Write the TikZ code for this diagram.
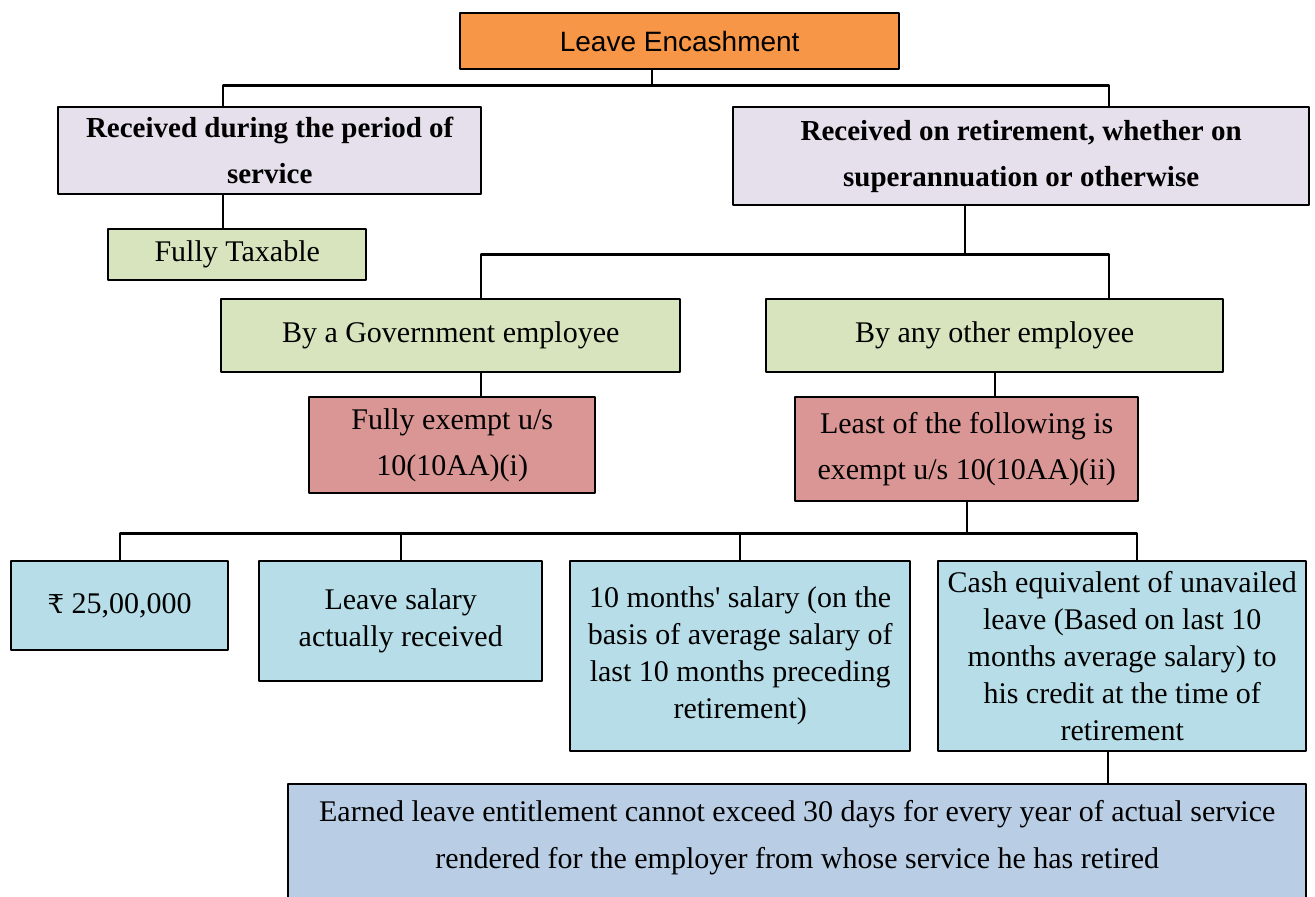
\documentclass[tikz,border=0pt]{standalone}
\usepackage{fontspec}
\setmainfont{Liberation Serif}[Ligatures=TeXOff]
\newfontfamily\headfont{Liberation Sans}
\newfontfamily\rupeefont{DejaVu Serif}
\definecolor{encorange}{HTML}{F79646}
\definecolor{modelilac}{HTML}{E5E0EC}
\definecolor{taxgreen}{HTML}{D7E4BD}
\definecolor{exred}{HTML}{D99694}
\definecolor{limitblue}{HTML}{B7DEE8}
\definecolor{noteblue}{HTML}{B9CDE5}
\begin{document}
\begin{tikzpicture}[x=1pt,y=-1pt,line join=round]
	\tikzset{box/.style={draw, line width=2.4pt, align=center, inner sep=0pt, anchor=north west, font=\fontsize{30}{37}\selectfont},
		loose/.style={font=\fontsize{30}{46}\selectfont},
		heavy/.style={font=\fontsize{29}{46}\selectfont\bfseries},
		conn/.style={line width=2.2pt}}
	\useasboundingbox (0,0) rectangle (1315,897);
	\clip (0,0) rectangle (1315,897);
	% top level
	\node (enc) [box, fill=encorange, minimum width=439, minimum height=56, font=\headfont\fontsize{28}{30}\selectfont] at (459,12) {Leave Encashment};
	\node (svc) [box, heavy, fill=modelilac, minimum width=423, minimum height=87] at (57,106) {Received during the period of\\service};
	\node (ret) [box, heavy, fill=modelilac, minimum width=576, minimum height=98] at (732,106) {Received on retirement, whether on\\superannuation or otherwise};
	\node (tax) [box, fill=taxgreen, minimum width=258, minimum height=51] at (107,228) {Fully Taxable};
	% retirement branch
	\node (gov) [box, fill=taxgreen, minimum width=459, minimum height=73] at (220,298) {By a Government employee};
	\node (oth) [box, fill=taxgreen, minimum width=457, minimum height=73] at (765,298) {By any other employee};
	\node (ex1) [box, loose, fill=exred, minimum width=286, minimum height=96] at (308,396) {Fully exempt u/s\\10(10AA)(i)};
	\node (ex2) [box, loose, fill=exred, minimum width=343, minimum height=104] at (794,396) {Least of the following is\\exempt u/s 10(10AA)(ii)};
	% limits
	\node (c1) [box, fill=limitblue, minimum width=217, minimum height=89] at (10,560) {{\rupeefont\fontsize{26}{30}\selectfont ₹} 25,00,000};
	\node (c2) [box, fill=limitblue, minimum width=283, minimum height=120] at (258,560) {Leave salary\\actually received};
	\node (c3) [box, fill=limitblue, minimum width=340, minimum height=190] at (569,560) {10 months' salary (on the\\basis of average salary of\\last 10 months preceding\\retirement)};
	\node (c4) [box, fill=limitblue, minimum width=368, minimum height=190] at (937,560) {Cash equivalent of unavailed\\leave (Based on last 10\\months average salary) to\\his credit at the time of\\retirement};
	\node (note) [box, fill=noteblue, minimum width=1018, minimum height=140] at (287,783) {};
	\node [font=\fontsize{30}{47}\selectfont, align=center, anchor=north] at ([yshift=-14]note.north) {Earned leave entitlement cannot exceed 30 days for every year of actual service\\rendered for the employer from whose service he has retired};
	% connectors
	\draw[conn] ([xshift=-28]enc.south) -- ++(0,15) coordinate (j1);
	\draw[conn] ([xshift=-47]svc.north) |- (j1) -| ([xshift=88]ret.north);
	\draw[conn] ([xshift=-47]svc.south) -- ([xshift=-47]svc.south |- tax.north);
	\draw[conn] ([xshift=-56]ret.south) -- ++(0,48) coordinate (j2);
	\draw[conn] ([xshift=30]gov.north) |- (j2) -| ([xshift=114]oth.north);
	\draw[conn] ([xshift=30]gov.south) -- ([xshift=30]gov.south |- ex1.north);
	\draw[conn] (oth.south) -- (oth.south |- ex2.north);
	\draw[conn] (ex2.south) -- ++(0,31) coordinate (j3);
	\draw[conn] (c1.north) |- (j3) -| ([xshift=15]c4.north);
	\foreach \c in {c2,c3}
		\draw[conn] (\c.north) -- (\c.north |- j3);
	\draw[conn] ([xshift=-14]c4.south) -- ([xshift=-14]c4.south |- note.north);
\end{tikzpicture}
\end{document}
